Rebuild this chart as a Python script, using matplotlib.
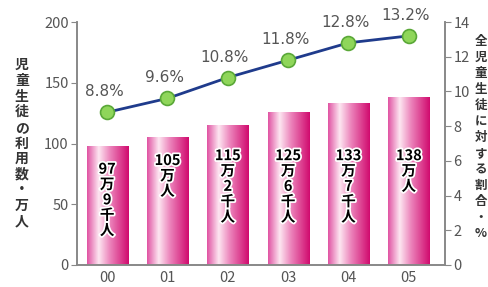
import matplotlib
matplotlib.use("Agg")
import matplotlib.pyplot as plt
import numpy as np
from matplotlib.colors import LinearSegmentedColormap
import matplotlib.patheffects as pe

plt.rcParams['font.family'] = ['Noto Sans CJK JP', 'DejaVu Sans']

years = ["00", "01", "02", "03", "04", "05"]
users = [97.9, 105, 115.2, 125.6, 133.7, 138]
bar_labels = ["97\n万\n9\n千\n人", "105\n万\n人", "115\n万\n2\n千\n人",
              "125\n万\n6\n千\n人", "133\n万\n7\n千\n人", "138\n万\n人"]
ratio = [8.8, 9.6, 10.8, 11.8, 12.8, 13.2]
ratio_labels = ["8.8%", "9.6%", "10.8%", "11.8%", "12.8%", "13.2%"]

fig = plt.figure(figsize=(4.88, 2.87), dpi=100)
ax = fig.add_axes([77/488, 22/287, (445-77)/488, (265-22)/287])
ax2 = ax.twinx()

x = np.arange(len(years))
bars = ax.bar(x, users, width=0.68, color='none', edgecolor='none', zorder=2)

cmap = LinearSegmentedColormap.from_list(
    "pk", [(0, "#e052a2"), (0.28, "#fde6f1"), (0.55, "#ec84bb"), (1.0, "#d00a6e")])
grad = np.linspace(0, 1, 256).reshape(1, -1)
for b in bars:
    x0, y0 = b.get_x(), b.get_y()
    w, h = b.get_width(), b.get_height()
    im = ax.imshow(grad, cmap=cmap, aspect='auto', extent=(x0, x0 + w, y0, y0 + h), zorder=2)
    im.set_clip_path(b)

for xi, v, lab in zip(x, users, bar_labels):
    ax.text(xi, min(v - 12, 97), lab, ha='center', va='top', fontsize=10.5, fontweight='bold',
            linespacing=0.95, color='black', zorder=4,
            path_effects=[pe.withStroke(linewidth=2.5, foreground='white')])

ax2.plot(x, ratio, color='#1f3b8c', lw=2, zorder=5,
         marker='o', markersize=10, markerfacecolor='#8fd65a', markeredgecolor='#5aa838',
         markeredgewidth=1.2)
for xi, r, lab in zip(x, ratio, ratio_labels):
    ax2.text(xi - 0.05, r + 0.75, lab, ha='center', va='bottom', fontsize=11,
             color='#555555', family='DejaVu Sans')

ax.set_xlim(-0.5, 5.6)
ax.set_ylim(0, 200)
ax2.set_ylim(0, 14)
ax.set_yticks([0, 50, 100, 150, 200])
ax2.set_yticks([0, 2, 4, 6, 8, 10, 12, 14])
ax.set_xticks(x)
ax.set_xticklabels(years)

for a in (ax, ax2):
    a.spines['top'].set_visible(False)
    for s in ('left', 'right', 'bottom'):
        a.spines[s].set_color('#888888')
        a.spines[s].set_linewidth(1.2)
    a.tick_params(colors='#888888', labelcolor='#555555', labelsize=10.5, length=4, pad=2)
ax.tick_params(axis='x', length=0, pad=4)
ax.set_facecolor('none')
ax2.set_zorder(ax.get_zorder() + 1)
ax.set_zorder(0)

fig.text(22/488, 0.5, "児\n童\n生\n徒\nの\n利\n用\n数\n・\n万\n人", ha='center', va='center',
         fontsize=10, fontweight='bold', linespacing=1.15, color='#333333')
fig.text(481/488, 0.52, "全\n児\n童\n生\n徒\nに\n対\nす\nる\n割\n合\n・\n%", ha='center', va='center',
         fontsize=9, fontweight='bold', linespacing=1.3, color='#333333')

fig.savefig("out.png", dpi=100)
